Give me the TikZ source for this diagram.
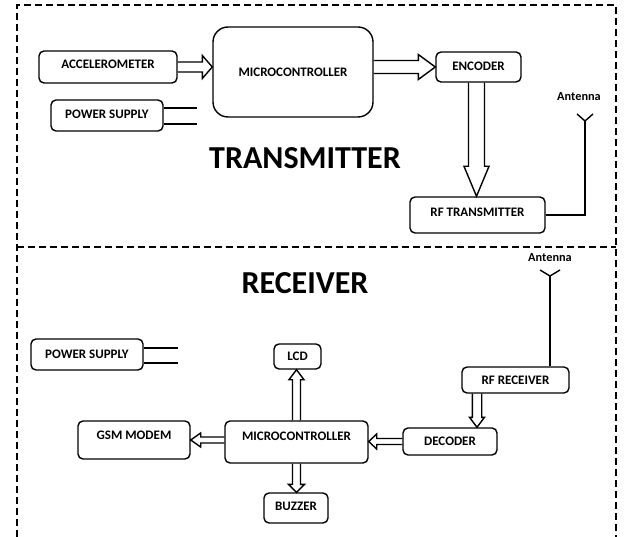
\documentclass[tikz,border=0pt]{standalone}
\usepackage{fontspec}
\setmainfont{Carlito}
\usetikzlibrary{calc}
\tikzset{
  box/.style={draw, line width=1.4pt, rounded corners=5pt, inner sep=0pt,
    font=\bfseries\fontsize{13}{15}\selectfont},
  bigbox/.style={box, rounded corners=15pt},
  blk/.style={draw, line width=1.4pt, line join=miter},
  frame/.style={draw, line width=1.3pt, dash pattern=on 7pt off 4pt},
  wire/.style={draw, line width=1.4pt},
  title/.style={inner sep=0pt, font=\bfseries\fontsize{32}{36}\selectfont},
  antlabel/.style={inner sep=0pt, font=\bfseries\fontsize{12.3}{14}\selectfont},
}
% hollow block arrows: #1 start, #2 tip, #3 shaft half width, #4 head half width, #5 head length
\newcommand\blkright[5]{\draw[blk] ($(#1)+(0,-#3)$) -- ($(#2)+(-#5,-#3)$) -- ($(#2)+(-#5,-#4)$) -- (#2) -- ($(#2)+(-#5,#4)$) -- ($(#2)+(-#5,#3)$) -- ($(#1)+(0,#3)$);}
\newcommand\blkleft[5]{\draw[blk] ($(#1)+(0,-#3)$) -- ($(#2)+(#5,-#3)$) -- ($(#2)+(#5,-#4)$) -- (#2) -- ($(#2)+(#5,#4)$) -- ($(#2)+(#5,#3)$) -- ($(#1)+(0,#3)$);}
\newcommand\blkdown[5]{\draw[blk] ($(#1)+(-#3,0)$) -- ($(#2)+(-#3,-#5)$) -- ($(#2)+(-#4,-#5)$) -- (#2) -- ($(#2)+(#4,-#5)$) -- ($(#2)+(#3,-#5)$) -- ($(#1)+(#3,0)$);}
\newcommand\blkup[5]{\draw[blk] ($(#1)+(-#3,0)$) -- ($(#2)+(-#3,#5)$) -- ($(#2)+(-#4,#5)$) -- (#2) -- ($(#2)+(#4,#5)$) -- ($(#2)+(#3,#5)$) -- ($(#1)+(#3,0)$);}
\begin{document}
\begin{tikzpicture}[x=1pt,y=-1pt]
\useasboundingbox (0,0) rectangle (624,537);
% frames
\draw[frame] (17,537) -- (17,5) -- (616,5) -- (616,537);
\draw[frame] (17,247) -- (616,247);

% ---------- transmitter ----------
\node[box, minimum width=138pt, minimum height=32pt, text depth=5pt] (acc) at (108,67) {ACCELEROMETER};
\node[box, minimum width=112pt, minimum height=31pt, text depth=3pt] (ps1) at (107,115.5) {POWER SUPPLY};
\node[bigbox, minimum width=160pt, minimum height=90pt] (mc1) at (293,72) {MICROCONTROLLER};
\node[box, minimum width=85pt, minimum height=30pt, text depth=2.5pt] (enc) at (478.5,67) {ENCODER};
\node[box, minimum width=135pt, minimum height=36pt, text depth=6pt] (rft) at (477.5,215) {RF TRANSMITTER};
\node[title] (tx) at (305,158) {TRANSMITTER};

\blkright{acc.east}{acc.east -| mc1.west}{5}{11.5}{10}
\blkright{mc1.east |- enc.west}{enc.west}{6.5}{12.5}{17}
\coordinate (e1) at ($(enc.south)+(-2,0)$);
\blkdown{e1}{e1 |- rft.north}{8}{12.5}{30}

\draw[wire] ($(ps1.east)+(0,-7.5)$) -- ++(33,0);
\draw[wire] ($(ps1.east)+(0,8.5)$) -- ++(33,0);

\node[antlabel] (antl1) at (579,97) {Antenna};
\coordinate (a1) at (585,121);
\draw[wire] (rft.east) -| (a1);
\draw[wire] (a1) -- ++(-8,-7);
\draw[wire] (a1) -- ++(8,-7);

% ---------- receiver ----------
\node[title] (rx) at (305,283) {RECEIVER};
\node[box, minimum width=112pt, minimum height=31pt] (ps2) at (87,354.5) {POWER SUPPLY};
\node[box, minimum width=47pt, minimum height=25pt] (lcd) at (297.5,356.5) {LCD};
\node[box, minimum width=107pt, minimum height=26pt] (rfr) at (515.5,380) {RF RECEIVER};
\node[box, minimum width=94pt, minimum height=27pt] (dec) at (450,441.5) {DECODER};
\node[box, minimum width=143pt, minimum height=42pt, text depth=12pt] (mc2) at (296.5,442) {MICROCONTROLLER};
\node[box, minimum width=112pt, minimum height=38pt, text depth=9.5pt] (gsm) at (134,440) {GSM MODEM};
\node[box, minimum width=64pt, minimum height=30pt, text depth=2.5pt] (buz) at (296,508) {BUZZER};

\draw[wire] ($(ps2.east)+(0,-6.5)$) -- ++(34,0);
\draw[wire] ($(ps2.east)+(0,8.5)$) -- ++(34,0);

\node[antlabel] (antl2) at (550,258) {Antenna};
\coordinate (a2) at (550,276);
\draw[wire] (a2) -- (a2 |- rfr.north);
\draw[wire] (a2) -- ++(-10,-6);
\draw[wire] (a2) -- ++(10,-6);

\coordinate (r1) at ($(rfr.south)+(-38.5,0)$);
\blkdown{r1}{r1 |- dec.north}{4.7}{7.5}{10}
\blkleft{dec.west}{dec.west -| mc2.east}{3}{7.5}{8}
\blkleft{mc2.west |- gsm.east}{gsm.east}{3}{7}{10}
\blkup{mc2.north}{mc2.north |- lcd.south}{4}{7.5}{10}
\blkdown{mc2.south}{mc2.south |- buz.north}{4}{8}{8}
\end{tikzpicture}
\end{document}
